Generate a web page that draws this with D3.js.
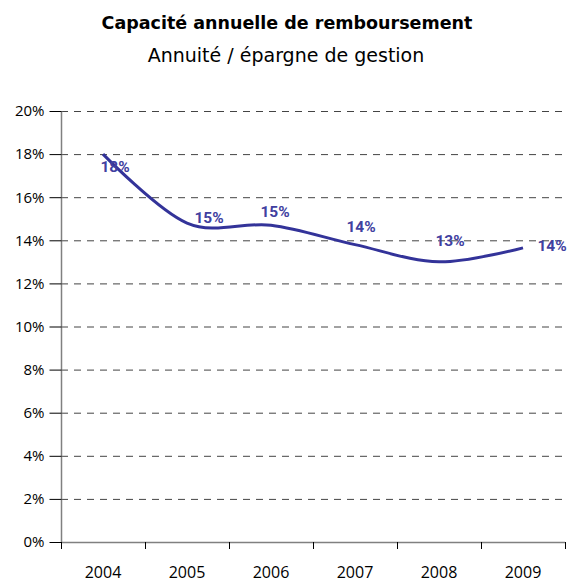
<!DOCTYPE html>
<html>
<head>
<meta charset="utf-8">
<script src="https://cdn.jsdelivr.net/npm/d3@7"></script>
<style>
  body { margin: 0; background: #fff; }
</style>
</head>
<body>
<div class="lineChart"></div>
<script>
const years = ["2004", "2005", "2006", "2007", "2008", "2009"];
const ratio = [18.0, 14.8, 14.7, 13.8, 13.0, 13.65];
const labels = ["18%", "15%", "15%", "14%", "13%", "14%"];
const yTicks = [0, 2, 4, 6, 8, 10, 12, 14, 16, 18, 20];

const width = 567, height = 582;
const margin = { top: 111, right: 2, bottom: 40, left: 61 };
const blue = "#333399";

// label nudges so the data labels sit where Excel put them
const nudge = [[12, 12], [22, -5], [4, -14], [6, -18], [11, -21], [29, -2]];

const svg = d3.select(".lineChart")
  .append("svg")
  .attr("width", width)
  .attr("height", height);

svg.append("text")
  .attr("x", 287).attr("y", 29)
  .attr("text-anchor", "middle")
  .style("font-family", "DejaVu Sans")
  .style("font-size", "17.5px")
  .style("font-weight", "bold")
  .text("Capacité annuelle de remboursement");

svg.append("text")
  .attr("x", 286).attr("y", 62)
  .attr("text-anchor", "middle")
  .style("font-family", "DejaVu Sans")
  .style("font-size", "19px")
  .text("Annuité / épargne de gestion");

const x = d3.scaleBand()
  .domain(years)
  .range([margin.left, width - margin.right])
  .padding(0);

const y = d3.scaleLinear()
  .domain([0, 20])
  .range([height - margin.bottom, margin.top]);

// dashed grid
svg.append("g")
  .selectAll("line")
  .data(yTicks.filter(d => d > 0))
  .enter()
  .append("line")
  .attr("x1", margin.left)
  .attr("x2", width - 5)
  .attr("y1", d => y(d) + 0.5)
  .attr("y2", d => y(d) + 0.5)
  .attr("stroke", "#444")
  .attr("stroke-dasharray", "7,6");

// y axis
const yAxis = d3.axisLeft(y)
  .tickValues(yTicks)
  .tickFormat(d => d + "%")
  .tickSize(12)
  .tickPadding(5);

const gy = svg.append("g")
  .attr("transform", "translate(" + (margin.left + 0.5) + ",0)")
  .call(yAxis);
gy.select(".domain").attr("stroke", "#808080").attr("stroke-width", 1.5)
  .attr("d", "M0," + y(20) + "V" + y(0));
gy.selectAll(".tick line").attr("stroke", "#000");
gy.selectAll("text")
  .style("font-family", "Open Sans")
  .style("font-size", "15px")
  .attr("fill", "#000");

// x axis, ticks on category boundaries
const xAxis = d3.axisBottom(x).tickSize(0).tickPadding(24);
const gx = svg.append("g")
  .attr("transform", "translate(0," + (y(0) + 0.5) + ")")
  .call(xAxis);
gx.select(".domain").attr("stroke", "#808080").attr("stroke-width", 1.5)
  .attr("d", "M" + margin.left + ",0H" + (width - margin.right));
gx.selectAll("text")
  .style("font-family", "Open Sans")
  .style("font-size", "16px")
  .attr("fill", "#000");

svg.append("g")
  .selectAll("line")
  .data(years.concat(["end"]))
  .enter()
  .append("line")
  .attr("x1", (d, i) => margin.left + i * x.bandwidth() + 0.5)
  .attr("x2", (d, i) => margin.left + i * x.bandwidth() + 0.5)
  .attr("y1", y(0))
  .attr("y2", y(0) + 7)
  .attr("stroke", "#000");

// smoothed line
const line = d3.line()
  .x((d, i) => x(years[i]) + x.bandwidth() / 2)
  .y(d => y(d))
  .curve(d3.curveCardinal.tension(0));

svg.append("path")
  .datum(ratio)
  .attr("d", line)
  .attr("fill", "none")
  .attr("stroke", blue)
  .attr("stroke-width", 3);

svg.append("g")
  .selectAll("text")
  .data(ratio)
  .enter()
  .append("text")
  .attr("x", (d, i) => x(years[i]) + x.bandwidth() / 2 + nudge[i][0])
  .attr("y", (d, i) => y(d) + nudge[i][1])
  .attr("text-anchor", "middle")
  .attr("dy", "0.35em")
  .style("font-family", "Roboto")
  .style("font-size", "15.5px")
  .style("font-weight", "bold")
  .attr("fill", "#4040a0")
  .text((d, i) => labels[i]);
</script>
</body>
</html>
